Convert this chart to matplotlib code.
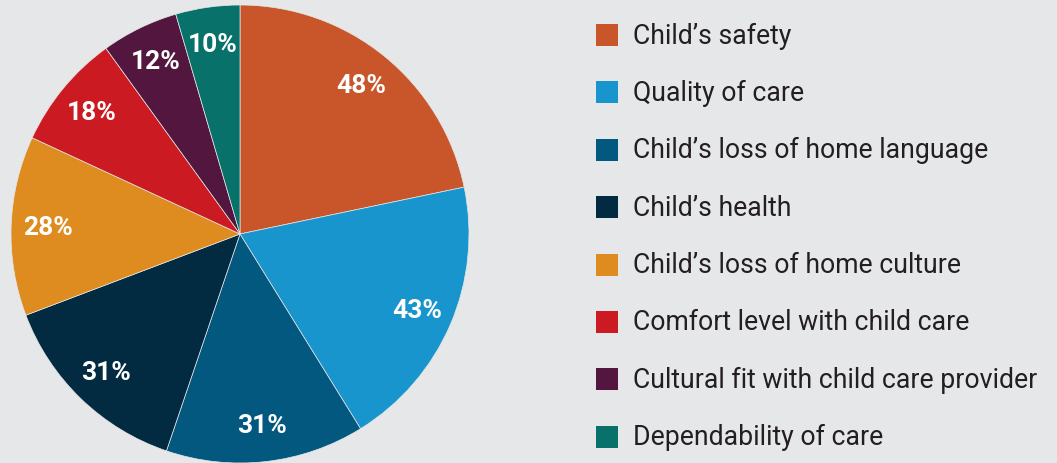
import numpy as np
import matplotlib
matplotlib.use("Agg")
import matplotlib.pyplot as plt
from matplotlib.patches import Rectangle

categories = [
    "Child\u2019s safety",
    "Quality of care",
    "Child\u2019s loss of home language",
    "Child\u2019s health",
    "Child\u2019s loss of home culture",
    "Comfort level with child care",
    "Cultural fit with child care provider",
    "Dependability of care",
]
values = [48, 43, 31, 31, 28, 18, 12, 10]
colors = ["#C8562A", "#1795CC", "#02587F", "#022A40",
          "#DE8C1F", "#CB1A21", "#53173F", "#08716A"]

BG = "#E6E7E9"
plt.rcParams["font.family"] = ["Roboto", "DejaVu Sans"]

W, H = 1057, 464
fig = plt.figure(figsize=(W / 100, H / 100), dpi=100, facecolor=BG)

# pie
cx, cy, r = 240, 235, 229
ax = fig.add_axes([(cx - r) / W, (H - cy - r) / H, 2 * r / W, 2 * r / H])
ax.set_facecolor(BG)
wedges, _ = ax.pie(values, colors=colors, startangle=90, counterclock=False,
                   radius=1, wedgeprops=dict(linewidth=0.5, edgecolor=BG))
ax.set_xlim(-1, 1)
ax.set_ylim(-1, 1)
ax.set_aspect("equal")
ax.axis("off")

for w, v in zip(wedges, values):
    ang = np.deg2rad((w.theta1 + w.theta2) / 2)
    d = 0.84
    ax.text(d * np.cos(ang), d * np.sin(ang), f"{v}%", color="white",
            fontsize=19, fontweight="bold", ha="center", va="center")

# legend
lx, sq = 596, 22
y0, step = 36, 57.4
for i, (lab, col) in enumerate(zip(categories, colors)):
    yc = y0 + i * step
    fig.patches.append(Rectangle((lx / W, (H - yc - sq / 2) / H), sq / W, sq / H,
                                 transform=fig.transFigure, facecolor=col,
                                 edgecolor="none"))
    fig.text((lx + 37) / W, (H - yc) / H, lab, fontsize=19.2, color="#231F20",
             ha="left", va="center")

fig.savefig("out.png", dpi=100, facecolor=BG)
